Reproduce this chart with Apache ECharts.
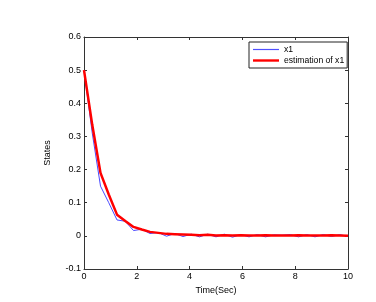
<!DOCTYPE html>
<html><head><meta charset="utf-8">
<script src="https://cdn.jsdelivr.net/npm/echarts@6/dist/echarts.min.js"></script>
<style>html,body{margin:0;padding:0;background:#fff}#c{width:376px;height:302px}</style>
</head><body><div id="c"></div>
<script>
var times = [0,0.3125,0.625,0.9375,1.25,1.5625,1.875,2.1875,2.5,2.8125,3.125,3.4375,3.75,4.0625,4.375,4.6875,5,5.3125,5.625,5.9375,6.25,6.5625,6.875,7.1875,7.5,7.8125,8.125,8.4375,8.75,9.0625,9.375,9.6875,10];
var x1 = [0.5,0.31,0.15,0.10,0.048,0.044,0.016,0.02,0.007,0.01,-0.001,0.007,-0.002,0.005,-0.003,0.005,-0.003,0.005,-0.004,0.004,-0.003,0.004,-0.003,0.003,0.002,0.004,-0.003,0.004,-0.003,0.004,-0.002,0.004,-0.002];
var est = [0.5,0.335,0.19,0.125,0.064,0.045,0.027,0.019,0.012,0.009,0.006,0.005,0.004,0.003,0.002,0.003,0.001,0.002,0.001,0.002,0.001,0.001,0.002,0.001,0.001,0.001,0.002,0.001,0.001,0.001,0.002,0.001,0.0];
var xTicks = {min:0,max:10,interval:2};
var yTicks = {min:-0.1,max:0.6,interval:0.1};
var seriesNames = ['x1','estimation of x1'];

function pairs(a){return times.map(function(t,i){return [t,a[i]];});}
var font = 'Liberation Sans, Arial, sans-serif';
var axisLine = {show:true,onZero:false,lineStyle:{color:'#333',width:1}};
var tick = {show:true,inside:true,length:3,lineStyle:{color:'#333'}};
var chart = echarts.init(document.getElementById('c'));
chart.setOption({
  animation:false,
  backgroundColor:'#fff',
  grid:{left:84,right:28,top:37,bottom:33,show:false},
  legend:{
    orient:'vertical',left:249,top:42,
    padding:[3,3,3,4],itemGap:2,itemWidth:26,itemHeight:9,
    borderColor:'#222',borderWidth:1,backgroundColor:'#fff',borderRadius:0,
    textStyle:{fontFamily:font,fontSize:8.6,color:'#000'},
    data:[
      {name:seriesNames[0],icon:'path://M0,0 M0,3.9 L26,3.9 L26,5.1 L0,5.1 Z M26,9',
       itemStyle:{color:'#5050ff',borderWidth:0},lineStyle:{color:'#5050ff',width:0}},
      {name:seriesNames[1],icon:'path://M0,0 M0,3.3 L26,3.3 L26,5.7 L0,5.7 Z M26,9',
       itemStyle:{color:'#ff0000',borderWidth:0},lineStyle:{color:'#ff0000',width:0}}
    ]
  },
  xAxis:[{
    type:'value',min:xTicks.min,max:xTicks.max,interval:xTicks.interval,
    name:'Time(Sec)',nameLocation:'middle',nameGap:17,
    nameTextStyle:{fontFamily:font,fontSize:9,color:'#000'},
    axisLine:axisLine,axisTick:tick,
    axisLabel:{fontFamily:font,fontSize:9,color:'#000',margin:3},
    splitLine:{show:false}
  },{
    type:'value',position:'top',min:xTicks.min,max:xTicks.max,interval:xTicks.interval,
    axisLine:axisLine,axisTick:tick,
    axisLabel:{show:false},splitLine:{show:false}
  }],
  yAxis:[{
    type:'value',min:yTicks.min,max:yTicks.max,interval:yTicks.interval,
    name:'States',nameLocation:'middle',nameGap:32,
    nameTextStyle:{fontFamily:font,fontSize:9,color:'#000'},
    axisLine:axisLine,axisTick:tick,
    axisLabel:{fontFamily:font,fontSize:9,color:'#000',margin:3,
      formatter:function(v){return Math.abs(v)<1e-9?'0':v.toFixed(1);}},
    splitLine:{show:false}
  },{
    type:'value',position:'right',min:yTicks.min,max:yTicks.max,interval:yTicks.interval,
    axisLine:axisLine,axisTick:tick,
    axisLabel:{show:false},splitLine:{show:false}
  }],
  series:[{
    name:seriesNames[0],type:'line',data:pairs(x1),showSymbol:false,symbol:'none',
    lineStyle:{color:'#4a4aff',width:1},itemStyle:{color:'#4a4aff'},z:2
  },{
    name:seriesNames[1],type:'line',data:pairs(est),showSymbol:false,symbol:'none',
    lineStyle:{color:'#ff0000',width:2.5},itemStyle:{color:'#ff0000'},z:3
  }]
});
</script></body></html>
